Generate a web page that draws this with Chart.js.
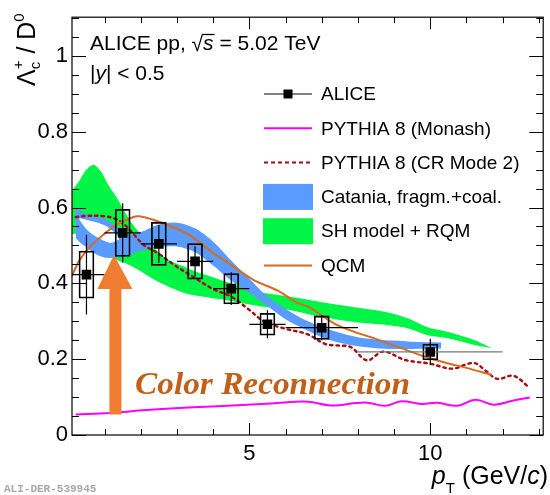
<!DOCTYPE html>
<html>
<head>
<meta charset="utf-8">
<script src="https://cdn.jsdelivr.net/npm/chart.js@4.4.0/dist/chart.umd.min.js"></script>
<style>
  html, body { margin: 0; padding: 0; background: #fff; }
  #chart { display: block; }
</style>
</head>
<body>
<canvas id="chart" width="550" height="495"></canvas>
<script>
// ALICE data points (pT bin centres, half widths, ratio, stat and syst errors)
const alicePt = [0.5, 1.5, 2.5, 3.5, 4.5, 5.5, 7, 10];
const alicePtErr = [0.5, 0.5, 0.5, 0.5, 0.5, 0.5, 1, 2];
const aliceRatio = [0.423, 0.533, 0.504, 0.458, 0.386, 0.292, 0.283, 0.219];
const aliceStat = [0.105, 0.078, 0.05, 0.04, 0.043, 0.037, 0.033, 0.035];
const aliceSyst = [0.062, 0.062, 0.057, 0.047, 0.04, 0.029, 0.031, 0.021];

// PYTHIA 8 Monash
const monashPt = [0.2, 1.15, 2.05, 3.45, 4.8, 5.6, 6.6, 7.25, 8.2, 8.75, 9.2, 9.75, 10.2, 10.75, 11.25, 11.75, 12.3, 12.75];
const monashRatio = [0.054, 0.058, 0.065, 0.073, 0.079, 0.083, 0.088, 0.078, 0.086, 0.077, 0.089, 0.082, 0.085, 0.077, 0.093, 0.080, 0.091, 0.099];

// PYTHIA 8 CR Mode 2
const crPt = [0.2, 0.5, 1.0, 1.3, 1.55, 1.8, 2.1, 2.5, 2.9, 3.4, 4.0, 4.5, 5.0, 5.4, 6.0, 6.6, 7.1, 7.45, 7.8, 8.25, 8.7, 9.3, 10.0, 10.6, 11.2, 11.55, 11.85, 12.3, 12.75];
const crRatio = [0.575, 0.578, 0.577, 0.57, 0.555, 0.53, 0.5, 0.478, 0.45, 0.42, 0.385, 0.365, 0.33, 0.3, 0.28, 0.266, 0.24, 0.236, 0.232, 0.197, 0.22, 0.198, 0.188, 0.175, 0.19, 0.168, 0.148, 0.156, 0.124];

// QCM
const qcmPt = [0.1, 0.3, 0.6, 0.95, 1.3, 1.8, 1.95, 2.3, 2.85, 3.35, 4.0, 4.35, 5.1, 5.8, 6.3, 6.65, 7.35, 7.9, 8.45, 9.2, 9.9, 10.45, 11.0, 11.7];
const qcmRatio = [0.42, 0.46, 0.497, 0.527, 0.553, 0.575, 0.577, 0.569, 0.55, 0.527, 0.48, 0.458, 0.41, 0.38, 0.35, 0.337, 0.294, 0.272, 0.255, 0.229, 0.205, 0.19, 0.177, 0.158];

// Catania band (upper / lower edge) and the empty gap inside it at low pT
const cataniaPt = [0.2, 0.3, 0.5, 0.7, 1.0, 1.3, 1.6, 2.0, 2.5, 3.0, 3.5, 4.0, 4.5, 5.0, 5.5, 6.0, 6.5, 7.0, 7.5, 8.0, 8.5, 9.0, 9.5, 10.3];
const cataniaHi = [0.605, 0.592, 0.582, 0.577, 0.57, 0.553, 0.53, 0.535, 0.555, 0.56, 0.545, 0.51, 0.46, 0.412, 0.365, 0.333, 0.305, 0.285, 0.27, 0.258, 0.252, 0.249, 0.246, 0.244];
const cataniaLo = [0.52, 0.51, 0.495, 0.48, 0.468, 0.468, 0.472, 0.485, 0.495, 0.497, 0.482, 0.447, 0.407, 0.375, 0.34, 0.305, 0.28, 0.258, 0.243, 0.234, 0.229, 0.227, 0.227, 0.228];
const gapPt = [0.3, 0.5, 0.7, 1.0, 1.2, 1.4];
const gapHi = [0.572, 0.568, 0.563, 0.553, 0.54, 0.522];
const gapLo = [0.568, 0.543, 0.527, 0.512, 0.507, 0.516];

// SH model + RQM band
const shPt = [0.1, 0.3, 0.5, 0.7, 0.9, 1.1, 1.33, 1.7, 2.0, 2.4, 2.8, 3.3, 3.7, 4.4, 5.1, 5.5, 6.1, 7.0, 7.9, 8.8, 9.4, 9.9, 10.5, 11.2, 11.7];
const shHi = [0.645, 0.67, 0.7, 0.713, 0.695, 0.66, 0.627, 0.566, 0.53, 0.49, 0.46, 0.44, 0.425, 0.403, 0.382, 0.373, 0.365, 0.35, 0.337, 0.324, 0.307, 0.285, 0.272, 0.251, 0.229];
const shLo = [0.53, 0.53, 0.52, 0.51, 0.5, 0.48, 0.462, 0.448, 0.432, 0.408, 0.39, 0.372, 0.365, 0.355, 0.343, 0.337, 0.33, 0.311, 0.298, 0.29, 0.281, 0.264, 0.255, 0.238, 0.229];

// axis tick labels
const xTickVals = [5, 10];
const yTickVals = [0, 0.2, 0.4, 0.6, 0.8, 1];

const legendLabels = ['ALICE', 'PYTHIA 8 (Monash)', 'PYTHIA 8 (CR Mode 2)', 'Catania, fragm.+coal.', 'SH model + RQM', 'QCM'];

const COL = {
  monash: '#ff00ff',
  cr: '#a80c0c',
  qcm: '#d96a1f',
  catania: '#5a9bff',
  sh: '#00f547',
  arrow: '#ee7d31',
  crText: '#c2601b'
};
const FONT = '"Liberation Sans", Arial, sans-serif';

function pts(xs, ys) {
  return xs.map((x, i) => ({ x: x, y: ys[i] }));
}

// error bar segments, broken by null points
let statSegs = [], xSegs = [];
for (let i = 0; i < alicePt.length; i++) {
  const x = alicePt[i], v = aliceRatio[i];
  statSegs.push({ x: x, y: v - aliceStat[i] }, { x: x, y: v + aliceStat[i] }, { x: x, y: null });
  xSegs.push({ x: x - alicePtErr[i], y: v }, { x: x + alicePtErr[i], y: v }, { x: x, y: null });
}
const systBoxes = alicePt.map((x, i) => ({ x: x, y: [aliceRatio[i] - aliceSyst[i], aliceRatio[i] + aliceSyst[i]] }));

function band(xs, ys, order, fillColor) {
  return {
    data: pts(xs, ys), order: order, borderWidth: 0, pointRadius: 0,
    tension: 0.3, fill: fillColor ? { target: '+1' } : false,
    backgroundColor: fillColor || 'rgba(0,0,0,0)'
  };
}

// draw text pieces one after the other (used for sub/superscripts)
function richText(ctx, x, y, parts) {
  let cx = x;
  parts.forEach(p => {
    ctx.font = (p.italic ? 'italic ' : '') + p.size + 'px ' + FONT;
    ctx.fillText(p.t, cx, y + (p.dy || 0));
    if (!p.stack) cx += ctx.measureText(p.t).width;
  });
  return cx;
}
function richWidth(ctx, parts) {
  let w = 0;
  parts.forEach(p => {
    ctx.font = (p.italic ? 'italic ' : '') + p.size + 'px ' + FONT;
    if (!p.stack) w += ctx.measureText(p.t).width;
  });
  return w;
}

const decorations = {
  id: 'decorations',
  afterDatasetsDraw(chart) {
    const { ctx, scales: { x, y } } = chart;
    // orange arrow
    const ax = x.getPixelForValue(1.3);
    const tip = y.getPixelForValue(0.475), head = y.getPixelForValue(0.385), bot = y.getPixelForValue(0.054);
    ctx.save();
    ctx.fillStyle = COL.arrow;
    ctx.beginPath();
    ctx.moveTo(ax - 1.5, tip);
    ctx.lineTo(ax + 17, head);
    ctx.lineTo(ax + 6, head);
    ctx.lineTo(ax + 6, bot);
    ctx.lineTo(ax - 6, bot);
    ctx.lineTo(ax - 6, head);
    ctx.lineTo(ax - 18, head);
    ctx.closePath();
    ctx.fill();

    // "Color Reconnection"
    ctx.fillStyle = COL.crText;
    ctx.font = 'bold italic 31px "Liberation Serif", "DejaVu Serif", serif';
    const txt = 'Color Reconnection';
    const w = ctx.measureText(txt).width;
    ctx.translate(135, 394);
    ctx.scale(275 / w, 1);
    ctx.fillText(txt, 0, 0);
    ctx.restore();
  },
  afterDraw(chart) {
    const { ctx, chartArea: a, scales: { x, y } } = chart;
    ctx.save();
    // frame and inward ticks
    ctx.strokeStyle = '#000';
    ctx.lineWidth = 1.2;
    ctx.strokeRect(a.left, a.top, a.right - a.left, a.bottom - a.top);
    ctx.lineWidth = 1;
    ctx.beginPath();
    for (let k = 0; k <= 22; k++) {
      const py = Math.round(y.getPixelForValue(k * 0.05)) + 0.5;
      const len = k % 4 === 0 ? 14 : 7;
      ctx.moveTo(a.left, py); ctx.lineTo(a.left + len, py);
      ctx.moveTo(a.right, py); ctx.lineTo(a.right - len, py);
    }
    for (let k = 1; k <= 13; k++) {
      const px = Math.round(x.getPixelForValue(k)) + 0.5;
      const len = k % 5 === 0 ? 12 : 6;
      ctx.moveTo(px, a.bottom); ctx.lineTo(px, a.bottom - len);
      ctx.moveTo(px, a.top); ctx.lineTo(px, a.top + len);
    }
    ctx.stroke();

    // top-left labels
    ctx.fillStyle = '#000';
    ctx.textBaseline = 'alphabetic';
    let cx = richText(ctx, 90, 50, [{ t: 'ALICE pp, ', size: 21 }]);
    ctx.font = '21px ' + FONT;
    ctx.fillText('\u221A', cx, 51);
    const rw = ctx.measureText('\u221A').width;
    ctx.font = 'italic 21px ' + FONT;
    const sw = ctx.measureText('s').width;
    ctx.beginPath();
    ctx.lineWidth = 1.3;
    ctx.moveTo(cx + rw - 1, 34.5); ctx.lineTo(cx + rw + sw + 1, 34.5);
    ctx.stroke();
    cx = richText(ctx, cx + rw, 50, [{ t: 's', size: 21, italic: true }, { t: ' = 5.02 TeV', size: 21 }]);
    richText(ctx, 90, 80, [{ t: '|', size: 21 }, { t: 'y', size: 21, italic: true }, { t: '| < 0.5', size: 21 }]);

    // legend
    const lx0 = 264, lx1 = 312, tx = 321, ly0 = 94, dy = 34.3;
    ctx.font = '19px ' + FONT;
    ctx.textBaseline = 'middle';
    legendLabels.forEach((lab, i) => {
      const ly = ly0 + i * dy;
      ctx.fillStyle = '#000';
      ctx.fillText(lab, tx, ly + 1);
      ctx.lineWidth = 2;
      ctx.setLineDash([]);
      if (i === 0) {
        ctx.lineWidth = 1.2; ctx.strokeStyle = '#000';
        ctx.beginPath(); ctx.moveTo(lx0, ly); ctx.lineTo(lx1, ly); ctx.stroke();
        ctx.fillRect(288 - 4.5, ly - 4.5, 9, 9);
      } else if (i === 1 || i === 2 || i === 5) {
        ctx.strokeStyle = i === 1 ? COL.monash : i === 2 ? COL.cr : COL.qcm;
        if (i === 2) ctx.setLineDash([4, 3]);
        ctx.beginPath(); ctx.moveTo(lx0, ly); ctx.lineTo(lx1, ly); ctx.stroke();
      } else {
        ctx.fillStyle = i === 3 ? COL.catania : COL.sh;
        ctx.fillRect(lx0 - 1, ly - 13, lx1 - lx0 + 2, 26);
      }
    });
    ctx.setLineDash([]);

    // y axis title
    ctx.fillStyle = '#000';
    ctx.textBaseline = 'alphabetic';
    ctx.save();
    ctx.translate(35, 86);
    ctx.rotate(-Math.PI / 2);
    richText(ctx, 0, 0, [
      { t: '\u039B', size: 25 },
      { t: 'c', size: 15, dy: 5, stack: true },
      { t: '+', size: 15, dy: -12 },
      { t: ' / D', size: 25 },
      { t: '0', size: 15, dy: -11 }
    ]);
    ctx.restore();

    // x axis title
    const xParts = [
      { t: 'p', size: 25, italic: true },
      { t: 'T', size: 15, dy: 9 },
      { t: ' (GeV/', size: 25 },
      { t: 'c', size: 25, italic: true },
      { t: ')', size: 25 }
    ];
    richText(ctx, 548 - richWidth(ctx, xParts), 484, xParts);

    // record id
    ctx.fillStyle = '#a8a8a8';
    ctx.font = 'bold 11px "Liberation Mono", "DejaVu Sans Mono", monospace';
    ctx.fillText('ALI-DER-539945', 4, 492);
    ctx.restore();
  }
};

const chart = new Chart(document.getElementById('chart'), {
  type: 'line',
  data: {
    datasets: [
      band(shPt, shHi, 10, COL.sh),
      band(shPt, shLo, 10),
      band(cataniaPt, cataniaHi, 9, COL.catania),
      band(cataniaPt, cataniaLo, 9),
      band(gapPt, gapHi, 8, '#ffffff'),
      band(gapPt, gapLo, 8),
      {
        label: 'PYTHIA 8 (Monash)', data: pts(monashPt, monashRatio), order: 6,
        borderColor: COL.monash, borderWidth: 2, pointRadius: 0, tension: 0.4
      },
      {
        label: 'PYTHIA 8 (CR Mode 2)', data: pts(crPt, crRatio), order: 5,
        borderColor: COL.cr, borderWidth: 2.4, borderDash: [2.5, 4], borderCapStyle: 'round',
        pointRadius: 0, tension: 0.35
      },
      {
        label: 'QCM', data: pts(qcmPt, qcmRatio), order: 4,
        borderColor: COL.qcm, borderWidth: 2, pointRadius: 0, tension: 0.3
      },
      {
        type: 'bar', label: 'syst', data: systBoxes, order: 3, grouped: false,
        barThickness: 15, backgroundColor: 'rgba(0,0,0,0)', borderColor: '#000',
        borderWidth: 1.1, borderSkipped: false
      },
      {
        label: 'xerr', data: xSegs, order: 2, borderWidth: 1.2, pointRadius: 0, spanGaps: false,
        borderColor: '#000',
        segment: { borderColor: c => (c.p0.parsed.x >= 8 ? '#777' : '#000') }
      },
      {
        label: 'stat', data: statSegs, order: 2, borderColor: '#000', borderWidth: 1.2,
        pointRadius: 0, spanGaps: false
      },
      {
        label: 'ALICE', data: pts(alicePt, aliceRatio), order: 1, showLine: false,
        pointStyle: 'rect', pointRadius: 6.8, backgroundColor: '#000', borderColor: '#000', borderWidth: 0
      }
    ]
  },
  options: {
    responsive: false,
    animation: false,
    events: [],
    layout: { padding: { top: 10, right: 3, left: 0, bottom: 0 } },
    plugins: { legend: { display: false }, tooltip: { enabled: false } },
    scales: {
      x: {
        type: 'linear', min: 0.1, max: 13.12, offset: false,
        grid: { display: false, drawTicks: false, offset: false },
        border: { display: false },
        afterBuildTicks: s => { s.ticks = xTickVals.map(v => ({ value: v })); },
        afterFit: s => { s.height = 60; },
        ticks: { padding: 6, color: '#000', font: { family: FONT, size: 22 }, maxRotation: 0, callback: v => String(v) }
      },
      y: {
        type: 'linear', min: 0, max: 1.102,
        grid: { display: false, drawTicks: false },
        border: { display: false },
        afterBuildTicks: s => { s.ticks = yTickVals.map(v => ({ value: v })); },
        afterFit: s => { s.width = 72; },
        ticks: {
          padding: 4, color: '#000', font: { family: FONT, size: 22 },
          callback: v => (v === 0 ? '0' : Math.abs(v - 1) < 1e-9 ? '1' : v.toFixed(1))
        }
      }
    }
  },
  plugins: [decorations]
});
</script>
</body>
</html>
